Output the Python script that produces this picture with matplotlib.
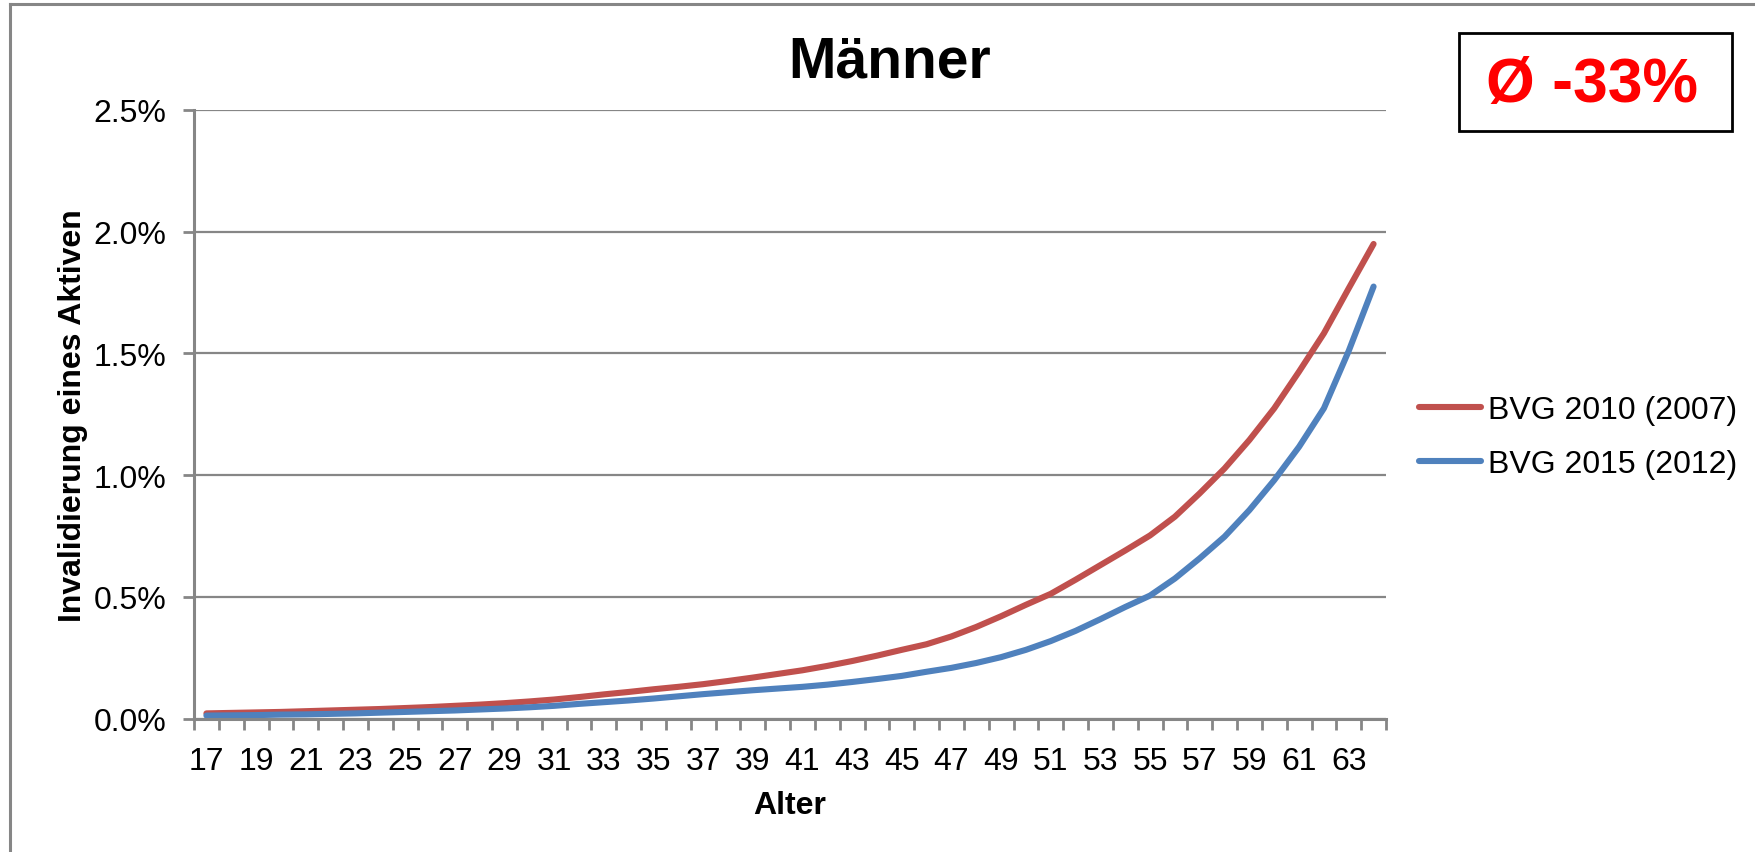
import numpy as np
import matplotlib
matplotlib.use('Agg')
import matplotlib.pyplot as plt
from matplotlib.patches import Rectangle
from matplotlib.lines import Line2D

plt.rcParams['font.family'] = ['Liberation Sans', 'DejaVu Sans']

# Alter 17..64
ages = list(range(17, 65))

# Invalidierungswahrscheinlichkeit in %
bvg2010 = [0.021, 0.023, 0.025, 0.027, 0.030, 0.033, 0.036, 0.039, 0.043, 0.047,
           0.052, 0.057, 0.063, 0.070, 0.078, 0.088, 0.099, 0.109, 0.120, 0.130,
           0.141, 0.154, 0.168, 0.183, 0.198, 0.216, 0.236, 0.258, 0.282, 0.305,
           0.337, 0.376, 0.420, 0.467, 0.512, 0.570, 0.630, 0.690, 0.752, 0.829,
           0.925, 1.027, 1.144, 1.274, 1.425, 1.582, 1.767, 1.949]
bvg2015 = [0.012, 0.013, 0.014, 0.016, 0.017, 0.019, 0.021, 0.024, 0.027, 0.030,
           0.033, 0.037, 0.041, 0.046, 0.052, 0.060, 0.067, 0.074, 0.082, 0.091,
           0.100, 0.108, 0.116, 0.123, 0.130, 0.139, 0.150, 0.162, 0.175, 0.192,
           0.208, 0.228, 0.252, 0.282, 0.318, 0.360, 0.408, 0.458, 0.505, 0.575,
           0.658, 0.747, 0.856, 0.979, 1.116, 1.274, 1.510, 1.774]
labels = ['BVG 2010 (2007)', 'BVG 2015 (2012)']

y_ticks = [0.0, 0.5, 1.0, 1.5, 2.0, 2.5]

W, H = 1755, 853
fig = plt.figure(figsize=(W / 100, H / 100), dpi=100)
ax = fig.add_axes([194 / W, 1 - 719.5 / H, (1386 - 194) / W, (719.5 - 110.8) / H])

grey = '#868686'
ax.plot(ages, bvg2010, color='#C0504D', lw=4.4, solid_capstyle='round', label=labels[0])
ax.plot(ages, bvg2015, color='#4F81BD', lw=4.4, solid_capstyle='round', label=labels[1])

ax.set_xlim(16.5, 64.5)
ax.set_ylim(0, 2.5)
ax.set_yticks(y_ticks)
ax.set_yticklabels([f'{v:.1f}%' for v in y_ticks])
ax.set_xticks(ages[::2])
ax.set_xticklabels([str(a) for a in ages[::2]])
ax.set_xticks(np.arange(16.5, 65, 1), minor=True)

ax.tick_params(axis='x', which='major', length=0, pad=20, labelsize=23)
ax.tick_params(axis='x', which='minor', length=8, width=2, color=grey)
ax.tick_params(axis='y', length=8, width=2, color=grey, pad=12, labelsize=23)

ax.grid(axis='y', color=grey, lw=1.6)
ax.set_axisbelow(True)
for s in ['top', 'right']:
    ax.spines[s].set_visible(False)
for s in ['left', 'bottom']:
    ax.spines[s].set_color(grey)
    ax.spines[s].set_linewidth(2.2)

ax.set_xlabel('Alter', fontsize=23, fontweight='bold', labelpad=10)
ax.set_ylabel('Invalidierung eines Aktiven', fontsize=23, fontweight='bold', labelpad=4)

fig.text(890 / W, 1 - 62 / H, 'Männer', fontsize=41, fontweight='bold',
         ha='center', va='center')

# Kasten mit Durchschnitt
fig.patches.append(Rectangle((1459 / W, 1 - 132 / H), (1732 - 1459) / W, (132 - 34) / H,
                             transform=fig.transFigure, fill=False, edgecolor='black', lw=2))
fig.text(1592 / W, 1 - 86 / H, 'Ø -33%', fontsize=45, fontweight='bold', color='#FF0000',
         ha='center', va='center')

# Rahmen um die Grafik (nur oben und links sichtbar)
fig.lines.append(Line2D([10 / W, 10 / W], [0, 1 - 5 / H], transform=fig.transFigure,
                        color=grey, lw=2.2))
fig.lines.append(Line2D([10 / W, 1], [1 - 5 / H, 1 - 5 / H], transform=fig.transFigure,
                        color=grey, lw=2.2))

fig.legend(loc='center left', bbox_to_anchor=(1419 / W, 1 - 438 / H), frameon=False,
           fontsize=23, handlelength=1.95, handletextpad=0.2, labelspacing=0.75,
           borderpad=0, borderaxespad=0)

fig.savefig('out.png', dpi=100)
